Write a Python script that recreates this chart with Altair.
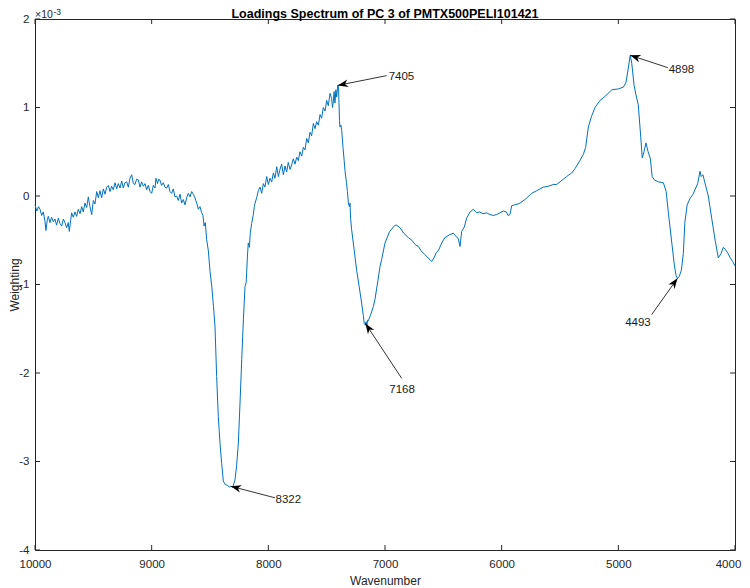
import math
import pandas as pd
import altair as alt

# ---------------- data (weighting in units of 1e-3) ----------------
wavenumber = [
    10000, 9985, 9970, 9957, 9943, 9929, 9915, 9906, 9895, 9886,
    9872, 9858, 9843, 9829, 9815, 9800, 9786, 9771, 9757, 9743,
    9729, 9715, 9706, 9695, 9686, 9672, 9657, 9643, 9629, 9614,
    9600, 9586, 9572, 9557, 9543, 9529, 9514, 9500, 9486, 9471,
    9457, 9443, 9429, 9414, 9400, 9386, 9371, 9357, 9343, 9329,
    9314, 9300, 9286, 9271, 9257, 9243, 9229, 9214, 9200, 9186,
    9171, 9157, 9143, 9129, 9114, 9100, 9086, 9071, 9057, 9043,
    9029, 9014, 9000, 8986, 8971, 8963, 8950, 8940, 8929, 8915,
    8900, 8886, 8871, 8857, 8843, 8829, 8815, 8800, 8786, 8772,
    8757, 8743, 8729, 8714, 8700, 8686, 8671, 8657, 8643, 8629,
    8614, 8600, 8586, 8571, 8560, 8551, 8540, 8529,
    8514, 8500, 8485, 8470, 8457, 8443, 8429, 8414, 8400, 8386,
    8370, 8350, 8335, 8322, 8305, 8286, 8272, 8257, 8243, 8228,
    8214, 8200, 8190, 8180, 8172, 8162, 8155, 8143, 8130, 8120,
    8114, 8100,
    8086, 8071, 8057, 8043, 8029, 8014, 8000, 7986, 7971, 7957,
    7943, 7928, 7914, 7900, 7886, 7871, 7857, 7843, 7829, 7814,
    7800, 7786, 7771, 7757, 7743, 7729, 7714, 7700, 7686, 7671,
    7657, 7643, 7629, 7614, 7600, 7586, 7571, 7557, 7543, 7529,
    7514, 7500, 7486, 7471, 7457, 7450, 7443, 7436, 7429, 7421,
    7414, 7405, 7398, 7390, 7386, 7378, 7371, 7360, 7350, 7343,
    7330, 7322, 7314, 7305, 7300, 7295, 7286, 7265, 7243, 7222,
    7200, 7186, 7178, 7168, 7162, 7155, 7148, 7143, 7125, 7100,
    7086, 7060, 7043, 7029, 7000, 6960, 6914, 6900, 6870, 6840,
    6800, 6770, 6740, 6714, 6690, 6660, 6630, 6614, 6600, 6580,
    6560, 6540, 6510, 6486, 6450, 6414, 6390, 6372, 6357, 6343,
    6320, 6300, 6271, 6243, 6214, 6190, 6160, 6129, 6100, 6071,
    6043, 6014, 5986, 5960, 5945, 5929, 5914, 5890, 5860, 5843,
    5800, 5743, 5700, 5643, 5600, 5557, 5529,
    5500, 5443, 5400, 5371, 5330, 5300, 5280, 5257, 5230, 5200,
    5157, 5110, 5057, 5000, 4957, 4935, 4920, 4898, 4885, 4865,
    4850, 4829, 4810, 4795, 4780, 4763, 4745, 4725, 4710, 4690,
    4657, 4614, 4590, 4571, 4540, 4520, 4505, 4493, 4478, 4460,
    4443, 4430, 4410, 4386, 4360, 4343, 4320, 4300, 4290, 4275,
    4260, 4229, 4200, 4170, 4143, 4120, 4100, 4085, 4060, 4040,
    4020, 4000,
]

weighting = [
    -0.10, -0.17, -0.12, -0.15, -0.22, -0.18, -0.28, -0.39, -0.27, -0.23,
    -0.30, -0.24, -0.29, -0.26, -0.33, -0.25, -0.31, -0.34, -0.26, -0.30,
    -0.36, -0.30, -0.40, -0.28, -0.19, -0.24, -0.18, -0.23, -0.15, -0.20,
    -0.12, -0.18, -0.08, -0.13, -0.01, -0.12, -0.21, -0.05, -0.09, 0.05,
    -0.02, 0.06, -0.02, 0.08, 0.02, 0.10, 0.12, 0.05, 0.11, 0.07,
    0.15, 0.08, 0.14, 0.09, 0.17, 0.09, 0.15, 0.16, 0.10, 0.20,
    0.24, 0.14, 0.13, 0.19, 0.18, 0.10, 0.16, 0.11, 0.14, 0.07,
    0.12, 0.05, 0.03, 0.12, 0.09, 0.20, 0.14, 0.19, 0.18, 0.12,
    0.15, 0.10, 0.09, 0.13, 0.05, 0.03, 0.08, -0.01, 0.00, -0.05,
    0.02, -0.08, -0.04, -0.10, -0.02, 0.03, -0.01, 0.05, 0.02, -0.02,
    -0.08, -0.15, -0.12, -0.19, -0.22, -0.34, -0.30, -0.49,
    -0.62, -0.85, -1.02, -1.25, -1.48, -2.04, -2.49, -2.80, -3.02, -3.22,
    -3.26, -3.27, -3.29, -3.28, -3.29, -3.21, -3.05, -2.79, -2.35, -1.85,
    -1.40, -1.02, -0.98, -0.70, -0.53, -0.58, -0.42, -0.31, -0.22, -0.12,
    -0.08, -0.02,
    0.06, 0.10, 0.03, 0.14, 0.10, 0.22, 0.13, 0.20, 0.16, 0.26,
    0.20, 0.33, 0.22, 0.30, 0.36, 0.24, 0.34, 0.27, 0.38, 0.30,
    0.35, 0.42, 0.36, 0.44, 0.40, 0.50, 0.45, 0.55, 0.52, 0.65,
    0.60, 0.72, 0.68, 0.82, 0.76, 0.84, 0.80, 0.92, 0.88, 1.00,
    0.96, 1.08, 1.02, 1.16, 1.10, 1.00, 1.07, 1.18, 1.05, 1.20,
    1.12, 1.25, 1.22, 0.85, 0.78, 0.80, 0.74, 0.55, 0.40, 0.29,
    0.15, 0.05, -0.08, -0.12, -0.08, -0.25, -0.38, -0.60, -0.84, -1.02,
    -1.21, -1.35, -1.44, -1.46, -1.42, -1.46, -1.40, -1.41, -1.35, -1.25,
    -1.17, -0.95, -0.80, -0.72, -0.53, -0.40, -0.33, -0.33, -0.36, -0.42,
    -0.47, -0.50, -0.55, -0.57, -0.62, -0.66, -0.70, -0.72, -0.74, -0.70,
    -0.64, -0.61, -0.52, -0.47, -0.44, -0.42, -0.46, -0.48, -0.57, -0.40,
    -0.35, -0.25, -0.18, -0.15, -0.19, -0.18, -0.20, -0.19, -0.21, -0.22,
    -0.21, -0.19, -0.17, -0.18, -0.22, -0.21, -0.11, -0.10, -0.09, -0.08,
    -0.04, 0.03, 0.06, 0.10, 0.11, 0.13, 0.13,
    0.16, 0.22, 0.26, 0.31, 0.40, 0.47, 0.55, 0.78, 0.90, 1.00,
    1.08, 1.13, 1.20, 1.21, 1.23, 1.28, 1.40, 1.59, 1.50, 1.25,
    1.15, 1.03, 0.70, 0.43, 0.50, 0.60, 0.50, 0.42, 0.22, 0.18,
    0.16, 0.15, 0.05, -0.19, -0.55, -0.78, -0.90, -0.93, -0.91, -0.84,
    -0.65, -0.30, -0.10, -0.03, 0.02, 0.07, 0.14, 0.28, 0.22, 0.24,
    0.16, 0.00, -0.25, -0.50, -0.70, -0.65, -0.58, -0.60, -0.65, -0.70,
    -0.74, -0.79,
]
assert len(wavenumber) == len(weighting)

# peak annotations
peak_labels = ["7405", "4898", "8322", "7168", "4493"]
tip_w = [7405, 4898, 8322, 7168, 4493]
tip_v = [1.25, 1.59, -3.28, -1.44, -0.93]
tail_w = [6986, 4575, 7943, 6857, 4714]
tail_v = [1.36, 1.45, -3.41, -2.06, -1.34]
text_w = [6859, 4459, 7829, 6854, 4832]
text_v = [1.35, 1.42, -3.43, -2.19, -1.44]

x_tick_values = [10000, 9000, 8000, 7000, 6000, 5000, 4000]
y_tick_values = [-4, -3, -2, -1, 0, 1, 2]

title_text = "Loadings Spectrum of PC 3 of PMTX500PELI101421"

# ---------------- styling ----------------
W, H = 700, 531
FONT = "Liberation Sans"
INK = "#262626"
LINE = "#0072BD"
X0, X1 = 4000, 10000
Y0, Y1 = -4, 2

xscale = alt.Scale(domain=[X0, X1], reverse=True, nice=False, zero=False)
yscale = alt.Scale(domain=[Y0, Y1], nice=False, zero=False)

x_axis = alt.Axis(values=x_tick_values, labelExpr="toString(datum.value)",
                  labelFlush=False, labelOverlap=False, labelPadding=8,
                  labelBaseline="top",
                  labelOffset={"condition": {"test": "datum.value == 4000", "value": -7},
                               "value": 0},
                  title="Wavenumber", titleY=25, titleBaseline="top")
y_axis = alt.Axis(values=y_tick_values, labelExpr="toString(datum.value)",
                  labelPadding=6, labelOverlap=False,
                  title="Weighting", titleX=-14, titleY=H / 2,
                  titleAngle=270, titleAlign="center", titleBaseline="bottom")

spec = pd.DataFrame({"Wavenumber": wavenumber, "Weighting": weighting})

# arrow head angles (pixel space, clockwise from "up")
angles = []
for tw, tv, aw, av in zip(tip_w, tip_v, tail_w, tail_v):
    dx = (aw - tw) * W / (X1 - X0)
    dy = (av - tv) * H / (Y1 - Y0)
    angles.append(math.degrees(math.atan2(dx, -dy)) % 360)

ann = pd.DataFrame({
    "label": peak_labels, "tip_w": tip_w, "tip_v": tip_v,
    "tail_w": tail_w, "tail_v": tail_v,
    "text_w": text_w, "text_v": text_v, "ang": angles,
})

line = alt.Chart(spec).mark_line(color=LINE, strokeWidth=1).encode(
    x=alt.X("Wavenumber:Q", scale=xscale, axis=x_axis),
    y=alt.Y("Weighting:Q", scale=yscale, axis=y_axis),
)

shafts = alt.Chart(ann).mark_rule(color="black", strokeWidth=0.8).encode(
    x=alt.X("tail_w:Q", scale=xscale, axis=x_axis),
    x2="tip_w:Q",
    y=alt.Y("tail_v:Q", scale=yscale, axis=y_axis),
    y2="tip_v:Q",
)

ARROW = "M0,0 L0.8,2.2 L0,1.55 L-0.8,2.2 Z"
heads = alt.Chart(ann).mark_point(shape=ARROW, filled=True, color="black",
                                  opacity=1, size=90, strokeWidth=0.5).encode(
    x=alt.X("tip_w:Q", scale=xscale, axis=x_axis),
    y=alt.Y("tip_v:Q", scale=yscale, axis=y_axis),
    angle=alt.Angle("ang:Q", scale=None),
)

labels = alt.Chart(ann).mark_text(font=FONT, fontSize=11.5, color="#1a1a1a",
                                  align="center", baseline="middle").encode(
    x=alt.X("text_w:Q", scale=xscale, axis=x_axis),
    y=alt.Y("text_v:Q", scale=yscale, axis=y_axis),
    text="label:N",
)

xt = pd.DataFrame({"xt": x_tick_values})
yt = pd.DataFrame({"yt": y_tick_values})
TL = 5
tick_style = dict(color=INK, strokeWidth=1)
xt_bottom = alt.Chart(xt).mark_rule(**tick_style).encode(
    x=alt.X("xt:Q", scale=xscale, axis=x_axis), y=alt.value(H - TL), y2=alt.value(H))
xt_top = alt.Chart(xt).mark_rule(**tick_style).encode(
    x=alt.X("xt:Q", scale=xscale, axis=x_axis), y=alt.value(0), y2=alt.value(TL))
yt_left = alt.Chart(yt).mark_rule(**tick_style).encode(
    y=alt.Y("yt:Q", scale=yscale, axis=y_axis), x=alt.value(0), x2=alt.value(TL))
yt_right = alt.Chart(yt).mark_rule(**tick_style).encode(
    y=alt.Y("yt:Q", scale=yscale, axis=y_axis), x=alt.value(W - TL), x2=alt.value(W))

one = alt.Data(values=[{"k": 1}])
mult = alt.Chart(one).mark_text(text="×10", font=FONT, fontSize=10.5, color=INK,
                                align="left", baseline="alphabetic").encode(
    x=alt.value(0), y=alt.value(-1))
expo = alt.Chart(one).mark_text(text="-3", font=FONT, fontSize=8.5, color=INK,
                                align="left", baseline="alphabetic").encode(
    x=alt.value(18.5), y=alt.value(-4))
title = alt.Chart(one).mark_text(text=title_text, font=FONT, fontSize=12.5,
                                 fontWeight="bold", color="black",
                                 align="center", baseline="alphabetic").encode(
    x=alt.value(W / 2), y=alt.value(-1))

chart = alt.layer(
    line, shafts, heads, labels, xt_bottom, xt_top, yt_left, yt_right,
    mult, expo, title,
).properties(
    width=W, height=H,
    autosize=alt.AutoSizeParams(type="none"),
    padding={"left": 27, "top": 11, "right": 7, "bottom": 38},
    background="white",
).configure_view(
    stroke=INK, strokeWidth=1, fill="white",
).configure_axis(
    grid=False, domain=False, ticks=False, tickSize=0,
    labelFont=FONT, labelFontSize=11.5, labelColor=INK,
    titleFont=FONT, titleFontSize=12, titleFontWeight="normal", titleColor=INK,
)

chart.save("out.html", embed_options={"renderer": "svg", "actions": False})
